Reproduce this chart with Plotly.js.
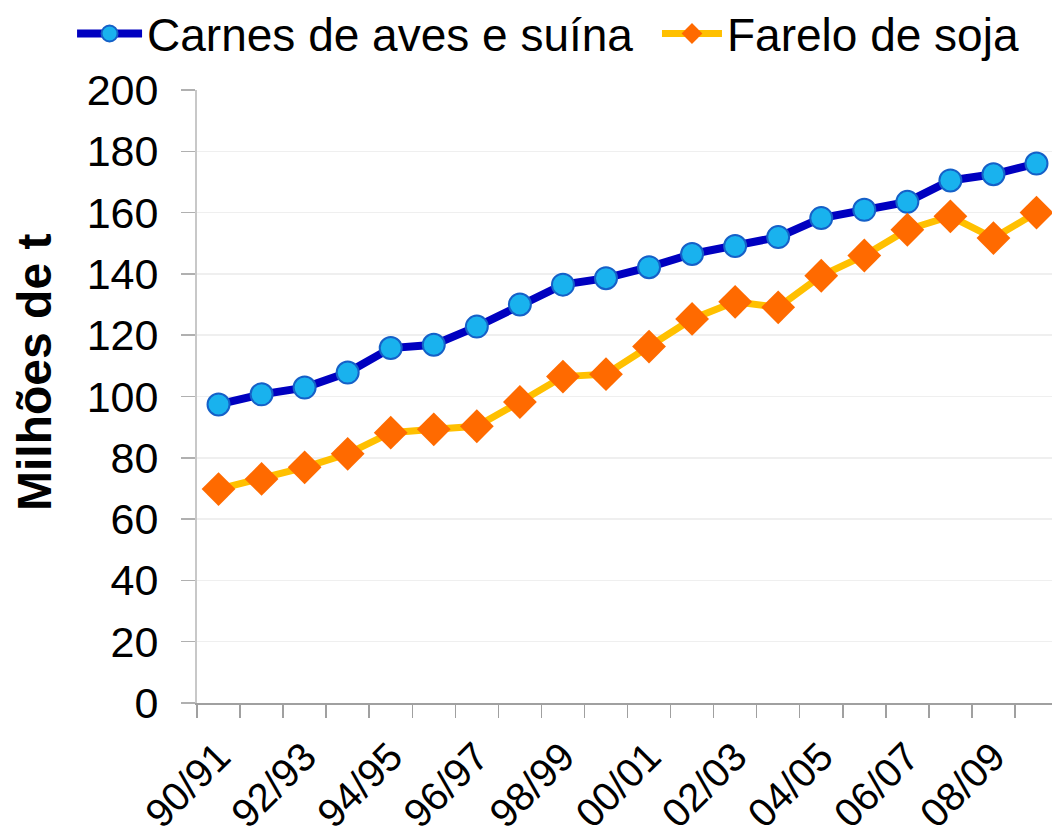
<!DOCTYPE html>
<html>
<head>
<meta charset="utf-8">
<script src="https://cdn.plot.ly/plotly-3.0.1.min.js"></script>
<style>
html,body{margin:0;padding:0;background:#fff;overflow:hidden;}
#chart{width:1052px;height:840px;}
</style>
</head>
<body>
<div id="chart"></div>
<script>
var categories = ["90/91","91/92","92/93","93/94","94/95","95/96","96/97","97/98","98/99","99/00",
                  "00/01","01/02","02/03","03/04","04/05","05/06","06/07","07/08","08/09","09/10"];
var carnes = [97.4,100.7,102.9,107.8,115.8,116.9,122.8,130.0,136.5,138.6,
              142.2,146.5,149.1,152.0,158.2,160.9,163.5,170.5,172.5,176.0];
var farelo = [69.8,73.1,76.9,81.3,88.2,89.3,90.3,98.2,106.5,107.3,
              116.3,125.3,130.9,129.1,139.4,146.0,154.4,158.8,151.7,160.0];
var tickLabels = categories.map(function(c,i){ return i % 2 === 0 ? c : ""; });
var yTicks = [0,20,40,60,80,100,120,140,160,180,200];
var yTitle = "Milhões de t";

var font = "Liberation Sans, Arial, sans-serif";

var traces = [
  {
    type: "scatter", mode: "lines+markers", name: "Carnes de aves e suína",
    x: categories, y: carnes, legend: "legend",
    line: {color: "#0000C0", width: 8},
    marker: {symbol: "circle", size: 22, color: "#19B2EE", line: {color: "#1560C8", width: 2}}
  },
  {
    type: "scatter", mode: "lines+markers", name: "Farelo de soja",
    x: categories, y: farelo, legend: "legend2",
    line: {color: "#FFC000", width: 7},
    marker: {symbol: "diamond", size: 26, color: "#FF6A00", line: {color: "#FF6A00", width: 0}}
  }
];

var legendFont = {family: font, size: 46, color: "#000"};

var layout = {
  width: 1052, height: 840,
  margin: {l: 197, r: 0, t: 89.5, b: 137.3, autoexpand: false},
  paper_bgcolor: "#ffffff", plot_bgcolor: "#ffffff",
  font: {family: font, color: "#000000", size: 40},
  showlegend: true,
  legend: {
    orientation: "h", xref: "container", yref: "container",
    x: 0.0685, xanchor: "left", y: 0.96, yanchor: "middle",
    font: legendFont, bgcolor: "rgba(0,0,0,0)", itemwidth: 65
  },
  legend2: {
    orientation: "h", xref: "container", yref: "container",
    x: 0.6245, xanchor: "left", y: 0.96, yanchor: "middle",
    font: legendFont, bgcolor: "rgba(0,0,0,0)", itemwidth: 60
  },
  xaxis: {
    type: "category", range: [-0.5, 19.36],
    tickmode: "array", tickvals: categories, ticktext: tickLabels,
    tickson: "boundaries", ticks: "outside", ticklen: 13, tickcolor: "#a0a0a0", tickwidth: 1.5,
    tickangle: -45, tickfont: {family: font, size: 40, color: "#000"},
    ticklabelstandoff: 12,
    showline: true, linecolor: "#a0a0a0", linewidth: 2,
    showgrid: false, zeroline: false
  },
  yaxis: {
    range: [0, 200], tickmode: "array", tickvals: yTicks,
    ticks: "outside", ticklen: 14, tickcolor: "#b0b0b0", tickwidth: 1.5,
    tickfont: {family: font, size: 43, color: "#000"},
    ticklabelstandoff: 14,
    showline: true, linecolor: "#c8c8c8", linewidth: 2,
    showgrid: true, gridcolor: "#efefef", gridwidth: 1.5,
    zeroline: false
  },
  annotations: [{
    text: "<b>" + yTitle + "</b>", textangle: -90,
    xref: "paper", yref: "paper", x: -0.1895, y: 0.54,
    xanchor: "center", yanchor: "middle", showarrow: false,
    font: {family: font, size: 48, color: "#000"}
  }]
};

Plotly.newPlot("chart", traces, layout, {displayModeBar: false, staticPlot: true});
</script>
</body>
</html>
